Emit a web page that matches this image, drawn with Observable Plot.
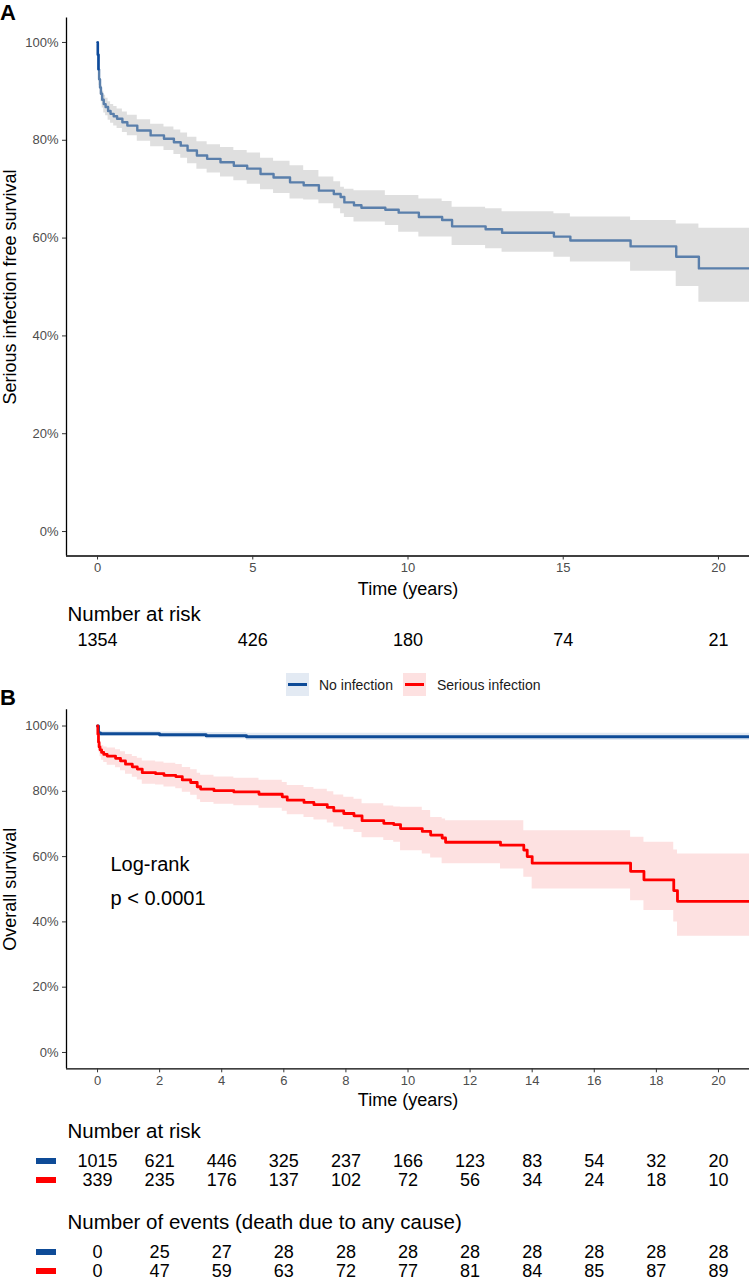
<!DOCTYPE html>
<html>
<head>
<meta charset="utf-8">
<script src="https://cdn.jsdelivr.net/npm/d3@7"></script>
<script src="https://cdn.jsdelivr.net/npm/@observablehq/plot@0.6"></script>
<style>
  body { margin: 0; background: #fff; font-family: "Liberation Sans", Arial, sans-serif; }
  #wrap { position: relative; width: 749px; height: 1281px; overflow: hidden; background: #fff; }
  #wrap svg { position: absolute; left: 0; }
  .panel { position: absolute; left: 0; font-weight: bold; font-size: 22px; line-height: normal; color: #000; }
  .keybox { position: absolute; width: 23px; height: 23px; }
  .keybox > div { position: absolute; left: 2px; right: 2px; top: 10px; height: 3px; }
  .legtext { position: absolute; font-size: 14px; line-height: 16px; color: #1a1a1a; }
  .swatch { position: absolute; left: 36px; width: 20px; height: 6px; }
</style>
</head>
<body>
<div id="wrap"></div>
<script>
// ---------------- Panel A: serious infection free survival ----------------
const timesA = [0, 0.01, 0.03, 0.05, 0.08, 0.11, 0.15, 0.2, 0.26, 0.34, 0.42, 0.52, 0.63, 0.8, 0.96, 1.28, 1.71, 2.14, 2.46, 2.68, 2.9, 3.2, 3.53, 3.96, 4.39, 4.82, 5.25, 5.67, 6.2, 6.64, 7.13, 7.61, 7.83, 7.95, 8.26, 8.5, 9.27, 9.7, 10.35, 11.1, 11.42, 12.5, 13.03, 14.7, 15.23, 17.17, 18.64, 19.37, 21];
const survA  = [100, 97.5, 94.5, 92.5, 90.8, 89.5, 88.3, 87.4, 86.8, 86.0, 85.4, 84.9, 84.4, 83.7, 83.0, 82.0, 81.0, 80.3, 79.6, 78.9, 77.9, 76.9, 76.2, 75.5, 74.8, 74.2, 73.1, 72.4, 71.4, 70.8, 69.7, 69.0, 68.4, 67.3, 66.7, 66.2, 65.8, 65.2, 64.3, 63.7, 62.4, 61.8, 61.1, 60.3, 59.5, 58.3, 56.2, 53.8, 53.8];
const lowerA = [100, 96.8, 93.5, 91.2, 89.3, 87.9, 86.6, 85.6, 85.0, 84.1, 83.5, 82.9, 82.4, 81.6, 80.9, 79.8, 78.7, 77.9, 77.1, 76.3, 75.2, 74.1, 73.3, 72.5, 71.7, 71.0, 69.9, 69.1, 68.0, 67.8, 67.0, 66.0, 65.0, 64.2, 63.3, 63.3, 62.6, 61.2, 60.2, 60.2, 58.5, 57.8, 57.1, 56.1, 55.1, 53.2, 50.1, 46.9, 46.9];
const upperA = [100, 98.2, 95.5, 93.8, 92.3, 91.1, 90.0, 89.2, 88.6, 87.9, 87.3, 86.9, 86.4, 85.8, 85.1, 84.2, 83.3, 82.7, 82.1, 81.5, 80.6, 79.7, 79.1, 78.5, 77.9, 77.4, 76.3, 75.7, 74.8, 73.8, 72.5, 71.5, 70.4, 70.0, 69.7, 69.7, 68.7, 68.7, 68.0, 67.5, 66.3, 66.0, 65.4, 65.0, 64.3, 63.6, 62.9, 62.0, 62.0];
const riskTimesA = [0, 5, 10, 15, 20];
const riskA = [1354, 426, 180, 74, 21];

// ---------------- Panel B: overall survival ----------------
const timesNoInf = [0, 0.03, 0.1, 2.0, 3.5, 4.8, 21];
const survNoInf  = [100, 97.9, 97.6, 97.3, 97.0, 96.7, 96.7];
const lowerNoInf = [100, 97.1, 96.8, 96.4, 96.0, 95.6, 95.6];
const upperNoInf = [100, 98.7, 98.4, 98.2, 98.0, 97.8, 97.8];

const timesInf = [0, 0.01, 0.03, 0.05, 0.08, 0.13, 0.2, 0.31, 0.58, 0.74, 0.9, 1.12, 1.28, 1.44, 1.87, 2.14, 2.52, 2.73, 3.0, 3.21, 3.32, 3.75, 4.39, 5.2, 5.95, 6.11, 6.65, 6.97, 7.4, 7.61, 7.93, 8.26, 8.52, 9.22, 9.54, 9.76, 10.46, 10.73, 11.1, 11.21, 12.98, 13.73, 13.84, 14.0, 17.17, 17.6, 18.56, 18.68, 21];
const survInf  = [100, 97.5, 95.0, 93.6, 92.7, 91.9, 91.3, 90.8, 90.1, 89.3, 88.3, 87.5, 86.8, 85.7, 85.4, 84.9, 84.5, 83.5, 82.7, 81.4, 80.7, 80.2, 79.8, 79.1, 78.3, 77.3, 76.6, 75.9, 75.1, 74.0, 73.2, 72.5, 71.0, 70.2, 69.8, 68.6, 67.7, 66.6, 65.7, 64.4, 63.5, 62.0, 60.0, 58.0, 55.5, 52.9, 49.6, 46.3, 46.3];
const lowerInf = [100, 96.5, 93.5, 91.8, 90.6, 89.5, 88.8, 88.0, 87.2, 86.3, 85.2, 84.3, 83.5, 82.2, 81.9, 81.3, 80.8, 79.7, 78.8, 77.4, 76.6, 76.0, 75.6, 74.8, 73.9, 72.8, 72.0, 71.2, 70.3, 69.1, 68.2, 67.4, 65.8, 64.9, 64.4, 61.8, 60.8, 59.6, 57.8, 57.8, 56.2, 53.7, 53.7, 50.1, 46.5, 43.5, 40.0, 35.6, 35.6];
const upperInf = [100, 98.5, 96.5, 95.3, 94.6, 94.0, 93.6, 93.3, 92.7, 92.1, 91.3, 90.7, 90.1, 89.3, 89.0, 88.6, 88.2, 87.3, 86.6, 85.5, 84.9, 84.4, 84.0, 83.4, 82.7, 81.8, 81.2, 80.6, 79.9, 78.9, 78.2, 77.6, 76.2, 75.5, 75.2, 75.1, 74.1, 72.0, 71.5, 71.0, 71.0, 67.9, 67.9, 67.9, 65.9, 64.4, 62.0, 60.8, 60.8];

const groups = ["No infection", "Serious infection"];
const groupColors = ["#0e4b97", "#ff0000"];
const bandColors = ["#e3eaf3", "#fde1e1"];

const riskTimesB = [0, 2, 4, 6, 8, 10, 12, 14, 16, 18, 20];
const riskNoInf = [1015, 621, 446, 325, 237, 166, 123, 83, 54, 32, 20];
const riskInf   = [339, 235, 176, 137, 102, 72, 56, 34, 24, 18, 10];
const eventsNoInf = [0, 25, 27, 28, 28, 28, 28, 28, 28, 28, 28];
const eventsInf   = [0, 47, 59, 63, 72, 77, 81, 84, 85, 87, 89];

const yTicks = [0, 20, 40, 60, 80, 100];
const pvalLines = ["Log-rank", "p < 0.0001"];

// ---------------- helpers ----------------
const FONT = "'Liberation Sans', Arial, sans-serif";
const xDomain = [-1, 21];
const yDomain = [-5, 105];
const rows = (ts, s, lo, hi) => ts.map((t, i) => ({t, s: s[i], lo: lo[i], hi: hi[i]}));
const dataA = rows(timesA, survA, lowerA, upperA);
const dataNo = rows(timesNoInf, survNoInf, lowerNoInf, upperNoInf);
const dataInf = rows(timesInf, survInf, lowerInf, upperInf);

const T = {lineAnchor: "middle", fill: "#000"};

function frameMarks(xTicks, yTitle, timeDy) {
  return [
    Plot.ruleX([xDomain[0]], {stroke: "#000", strokeWidth: 1.3}),
    Plot.ruleY([yDomain[0]], {stroke: "#000", strokeWidth: 1.3}),
    Plot.axisY(yTicks, {tickSize: 4, tickPadding: 4, tickFormat: d => d + "%", label: null,
      fontSize: 13, stroke: "#333", fill: "#4d4d4d"}),
    Plot.axisX(xTicks, {tickSize: 4, tickPadding: 3, tickFormat: d => String(d), label: null,
      fontSize: 13, stroke: "#333", fill: "#4d4d4d"}),
    Plot.text(["Time (years)"], {...T, frameAnchor: "bottom", textAnchor: "middle", dy: timeDy, fontSize: 18}),
    Plot.text([yTitle], {...T, frameAnchor: "left", textAnchor: "middle", dx: -56, rotate: -90, fontSize: 18})
  ];
}

const wrap = document.getElementById("wrap");

// ---------------- Plot A ----------------
const plotA = Plot.plot({
  width: 749, height: 660,
  marginLeft: 66, marginRight: 0, marginTop: 17.5, marginBottom: 104.5,
  style: {fontFamily: FONT, fontSize: "13px", background: "transparent", overflow: "visible"},
  x: {domain: xDomain},
  y: {domain: yDomain},
  marks: [
    Plot.areaY(dataA, {x: "t", y1: "lo", y2: "hi", curve: "step-after", fill: "#dfdfdf"}),
    Plot.line(dataA, {x: "t", y: "s", curve: "step-after", stroke: "#5a7fab", strokeWidth: 2.4}),
    Plot.line(dataA.slice(0, 3), {x: "t", y: "s", curve: "step-after", stroke: "#0d4a9c", strokeWidth: 2.4}),
    ...frameMarks(riskTimesA, "Serious infection free survival", 33.5),
    Plot.text(["Number at risk"], {...T, frameAnchor: "bottom-left", textAnchor: "start", dx: 1, dy: 58.5, fontSize: 20.5}),
    Plot.text(riskA, {...T, x: (d, i) => riskTimesA[i], text: d => String(d), frameAnchor: "bottom", textAnchor: "middle", dy: 84.5, fontSize: 18})
  ]
});
plotA.style.top = "0px";
wrap.appendChild(plotA);

// ---------------- Plot B ----------------
const plotB = Plot.plot({
  width: 749, height: 621,
  marginLeft: 66, marginRight: 0, marginTop: 49.2, marginBottom: 212.7,
  style: {fontFamily: FONT, fontSize: "13px", background: "transparent", overflow: "visible"},
  x: {domain: xDomain},
  y: {domain: yDomain},
  marks: [
    Plot.areaY(dataNo, {x: "t", y1: "lo", y2: "hi", curve: "step-after", fill: bandColors[0]}),
    Plot.areaY(dataInf, {x: "t", y1: "lo", y2: "hi", curve: "step-after", fill: bandColors[1]}),
    Plot.line(dataNo, {x: "t", y: "s", curve: "step-after", stroke: groupColors[0], strokeWidth: 3}),
    Plot.line(dataInf, {x: "t", y: "s", curve: "step-after", stroke: groupColors[1], strokeWidth: 2.8}),
    ...frameMarks(riskTimesB, "Overall survival", 31.5),
    Plot.text([pvalLines[0]], {...T, frameAnchor: "left", textAnchor: "start", dx: 44, dy: -24.5, fontSize: 20}),
    Plot.text([pvalLines[1]], {...T, frameAnchor: "left", textAnchor: "start", dx: 44, dy: 9.5, fontSize: 20}),
    Plot.text(["Number at risk"], {...T, frameAnchor: "bottom-left", textAnchor: "start", dx: 1, dy: 62.7, fontSize: 20.5}),
    Plot.text(riskNoInf, {...T, x: (d, i) => riskTimesB[i], text: d => String(d), frameAnchor: "bottom", textAnchor: "middle", dy: 92.7, fontSize: 18}),
    Plot.text(riskInf, {...T, x: (d, i) => riskTimesB[i], text: d => String(d), frameAnchor: "bottom", textAnchor: "middle", dy: 111.7, fontSize: 18}),
    Plot.text(["Number of events (death due to any cause)"], {...T, frameAnchor: "bottom-left", textAnchor: "start", dx: 1, dy: 153.7, fontSize: 20.5}),
    Plot.text(eventsNoInf, {...T, x: (d, i) => riskTimesB[i], text: d => String(d), frameAnchor: "bottom", textAnchor: "middle", dy: 183.7, fontSize: 18}),
    Plot.text(eventsInf, {...T, x: (d, i) => riskTimesB[i], text: d => String(d), frameAnchor: "bottom", textAnchor: "middle", dy: 202.7, fontSize: 18})
  ]
});
plotB.style.top = "660px";
wrap.appendChild(plotB);

// ---------------- panel letters, legend and table keys ----------------
function add(html) { wrap.insertAdjacentHTML("beforeend", html); }
add(`<div class="panel" style="top:0px">A</div>`);
add(`<div class="panel" style="top:685px">B</div>`);
const legLeft = [286, 403];
const textLeft = [319, 437];
groups.forEach((g, i) => {
  add(`<div class="keybox" style="left:${legLeft[i]}px;top:673px;background:${bandColors[i]}"><div style="background:${groupColors[i]}"></div></div>`);
  add(`<div class="legtext" style="left:${textLeft[i]}px;top:677px">${g}</div>`);
});
const keyRowsY = [[1161, 1252], [1180, 1271]];
groups.forEach((g, i) => {
  keyRowsY[i].forEach(y => add(`<div class="swatch" style="top:${y - 3}px;background:${groupColors[i]}"></div>`));
});
</script>
</body>
</html>
